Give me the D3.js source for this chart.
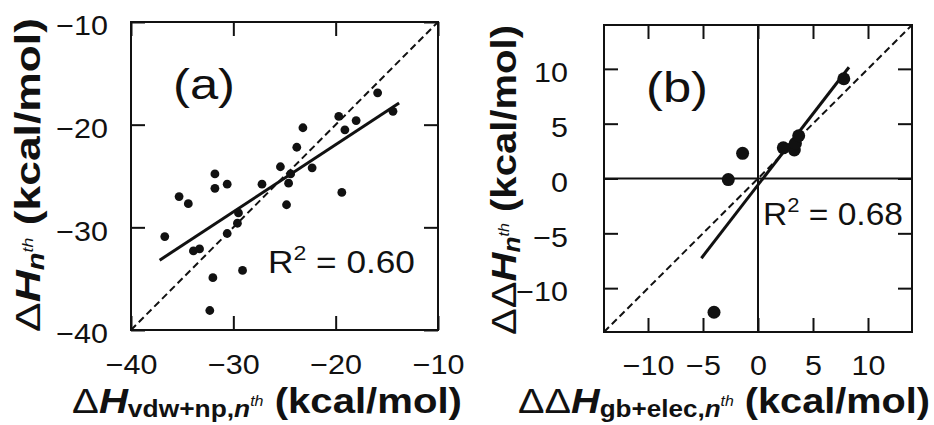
<!DOCTYPE html>
<html><head><meta charset="utf-8">
<script src="https://cdn.jsdelivr.net/npm/d3@7"></script>
<style>
body{margin:0;background:#fff}
svg{display:block}
text{font-family:"Liberation Sans",Arial,Helvetica,sans-serif;fill:#111}
</style>
</head><body>
<svg id="c" width="934" height="425"></svg>
<script>
// ---------- data ----------
const xA = [-36.7,-35.3,-34.4,-33.9,-33.3,-32.3,-32.0,-31.8,-31.8,-30.6,-30.6,-29.6,-29.5,-29.1,-27.2,-25.4,-24.8,-24.6,-24.4,-23.8,-23.2,-22.3,-19.7,-19.4,-19.1,-18.0,-15.9,-14.4];
const yA = [-30.9,-27.0,-27.7,-32.3,-32.1,-38.1,-34.9,-24.8,-26.2,-25.8,-30.6,-29.6,-28.6,-34.2,-25.8,-24.1,-27.8,-25.7,-24.8,-22.2,-20.3,-24.2,-19.2,-26.6,-20.5,-19.6,-16.9,-18.7];
const fitAx = [-37.2, -13.8];
const fitAy = [-33.2, -17.9];
const xB = [7.8, 2.3, 3.3, 3.4, 3.7, -1.4, -2.7, -4.0];
const yB = [9.1, 2.8, 2.6, 3.2, 3.9, 2.3, -0.1, -12.2];
const fitBx = [-5.15, 8.27];
const fitBy = [-7.27, 10.15];
const domainA = [-40, -10];
const domainB = [-14, 14];
const ticksA = [-40, -30, -20, -10];
const ticksB = [-10, -5, 0, 5, 10];
const r2A = "0.60";
const r2B = "0.68";

// ---------- drawing ----------
const svg = d3.select("#c");
const INK = "#111";
const SX = 1.13;
const fmt = d3.format("d");

function fitWidth(t, w){
  const bb = t.node().getBBox();
  t.attr("transform", `scale(${w/bb.width},1)`);
}

function panel(o){
  const x = d3.scaleLinear().domain(o.domain).range([o.left, o.right]);
  const y = d3.scaleLinear().domain(o.domain).range([o.bottom, o.top]);
  const g = svg.append("g");
  const T = 14;

  function styleAxis(sel){
    sel.attr("font-size", null).attr("font-family", null).attr("color", INK);
    sel.select(".domain").remove();
    sel.selectAll(".tick line").attr("stroke-width", 2);
  }
  const ab = g.append("g").attr("transform", `translate(0,${o.bottom})`)
    .call(d3.axisBottom(x).tickValues(o.ticks).tickSizeInner(-T).tickSizeOuter(0).tickPadding(o.padB).tickFormat(fmt));
  styleAxis(ab);
  ab.selectAll("text").attr("font-size", 27).attr("transform", `scale(${SX},1)`);

  const al = g.append("g").attr("transform", `translate(${o.left},0)`)
    .call(d3.axisLeft(y).tickValues(o.ticks).tickSizeInner(-T).tickSizeOuter(0).tickPadding(o.padL / SX).tickFormat(fmt));
  styleAxis(al);
  al.selectAll("text").attr("font-size", 27).attr("dy", "0.47em").attr("transform", `scale(${SX},1)`);

  const at = g.append("g").attr("transform", `translate(0,${o.top})`)
    .call(d3.axisTop(x).tickValues(o.ticks).tickSizeInner(-T).tickSizeOuter(0).tickFormat(""));
  styleAxis(at);
  const ar = g.append("g").attr("transform", `translate(${o.right},0)`)
    .call(d3.axisRight(y).tickValues(o.ticks).tickSizeInner(-T).tickSizeOuter(0).tickFormat(""));
  styleAxis(ar);

  if (o.zero){
    g.append("line").attr("x1", x(0)).attr("x2", x(0)).attr("y1", y(o.domain[0])).attr("y2", y(o.domain[1]))
      .attr("stroke", INK).attr("stroke-width", 2);
    g.append("line").attr("x1", x(o.domain[0])).attr("x2", x(o.domain[1])).attr("y1", y(0)).attr("y2", y(0))
      .attr("stroke", INK).attr("stroke-width", 2);
  }

  // identity dashed line
  g.append("line")
    .attr("x1", x(o.domain[0])).attr("y1", y(o.domain[0]))
    .attr("x2", x(o.domain[1])).attr("y2", y(o.domain[1]))
    .attr("stroke", INK).attr("stroke-width", 2).attr("stroke-dasharray", "7,4");

  // fit line
  g.append("line")
    .attr("x1", x(o.fx[0])).attr("y1", y(o.fy[0]))
    .attr("x2", x(o.fx[1])).attr("y2", y(o.fy[1]))
    .attr("stroke", INK).attr("stroke-width", 3);

  // points
  g.selectAll("circle.pt").data(o.xs.map((v,i)=>[v,o.ys[i]])).join("circle")
    .attr("class","pt").attr("cx", d=>x(d[0])).attr("cy", d=>y(d[1])).attr("r", o.r).attr("fill", INK);

  // border
  g.append("rect").attr("x", o.left).attr("y", o.top)
    .attr("width", o.right - o.left).attr("height", o.bottom - o.top)
    .attr("fill", "none").attr("stroke", INK).attr("stroke-width", 2);

  // panel tag
  const tg = g.append("g").attr("transform", `translate(${o.tag[0]},${o.tag[1]})`);
  const tt = tg.append("text").attr("font-size", 43).text(o.tagText);
  fitWidth(tt, o.tag[2]);

  // R^2
  const rg = g.append("g").attr("transform", `translate(${o.r2pos[0]},${o.r2pos[1]})`);
  const rt = rg.append("text").attr("font-size", 32);
  rt.append("tspan").text("R");
  rt.append("tspan").attr("font-size", 21).attr("dy", -13).text("2");
  rt.append("tspan").attr("dy", 13).text(" = " + o.r2);
  fitWidth(rt, o.r2pos[2]);
}

panel({domain: domainA, ticks: ticksA, left:131, right:438, top:22, bottom:330,
  padB:25, padL:23, xs:xA, ys:yA, fx:fitAx, fy:fitAy, r:4.4, zero:false,
  tag:[173, 99, 62], tagText:"(a)", r2pos:[268, 273, 147], r2:r2A});

panel({domain: domainB, ticks: ticksB, left:604, right:912, top:25, bottom:332,
  padB:24, padL:36, xs:xB, ys:yB, fx:fitBx, fy:fitBy, r:6.5, zero:true,
  tag:[646, 102, 62], tagText:"(b)", r2pos:[763, 225, 140], r2:r2B});

// ---------- axis titles ----------
function title(cx, cy, rot, width, deltas, sub){
  const g = svg.append("g").attr("transform", `translate(${cx},${cy}) rotate(${rot})`);
  const t = g.append("text").attr("text-anchor", "middle").attr("font-size", 35);
  t.append("tspan").attr("font-weight", "normal").text(deltas);
  t.append("tspan").attr("font-weight", "bold").attr("font-style", "italic").text("H");
  if (sub){
    t.append("tspan").attr("font-weight", "bold").attr("font-size", 23).attr("dy", 4).text(sub);
    t.append("tspan").attr("font-weight", "bold").attr("font-style", "italic").attr("font-size", 23).text("n");
  } else {
    t.append("tspan").attr("font-weight", "bold").attr("font-style", "italic").attr("font-size", 23).attr("dy", 4).text("n");
  }
  t.append("tspan").attr("font-style", "italic").attr("font-size", 14).attr("dy", -11).text("th");
  t.append("tspan").attr("font-weight", "bold").attr("dy", 7).text(" (kcal/mol)");
  fitWidth(t, width);
}
title(267, 413, 0, 390, "\u0394", "vdw+np,");
title(724, 413, 0, 412, "\u0394\u0394", "gb+elec,");
title(40, 175, -90, 314, "\u0394", null);
title(516, 180, -90, 310, "\u0394\u0394", null);
</script>
</body></html>
